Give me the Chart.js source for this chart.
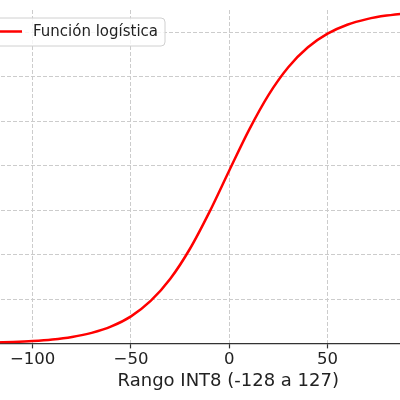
<!DOCTYPE html>
<html>
<head>
<meta charset="utf-8">
<script src="https://cdn.jsdelivr.net/npm/chart.js@4.4.0/dist/chart.umd.min.js"></script>
<style>
  html, body { margin: 0; padding: 0; background: #fff; overflow: hidden; }
  #frame { position: relative; width: 400px; height: 400px; overflow: hidden; }
  #wrap { position: absolute; left: -60px; top: 0; }
</style>
</head>
<body>
<div id="frame"><div id="wrap"><canvas id="logisticChart" width="620" height="400"></canvas></div></div>
<script>
// values
const xValues = [-128, -120, -110, -100, -90, -80, -70, -60, -50, -40, -30, -20, -10, 0,
                 10, 20, 30, 40, 50, 60, 70, 80, 90, 100, 110, 120, 127];
const yValues = [0.0018, 0.0027, 0.0044, 0.0072, 0.0118, 0.0194, 0.0315, 0.0509, 0.0812, 0.1273,
                 0.1939, 0.2839, 0.3953, 0.5187, 0.6399, 0.7456, 0.8285, 0.8884, 0.9292, 0.9559,
                 0.9727, 0.9833, 0.9898, 0.9938, 0.9962, 0.9977, 0.9985];
const xTicks = [-100, -50, 0, 50, 100];
const xTickLabels = ['\u2212100', '\u221250', '0', '50', '100'];
const yGrid = [0.133, 0.267, 0.4, 0.534, 0.667, 0.801, 0.934];
const seriesLabel = 'Función logística';
const xTitle = 'Rango INT8 (-128 a 127)';

Chart.defaults.font.family = "'DejaVu Sans', sans-serif";
Chart.defaults.color = '#222';

// matplotlib-style legend box inside the plot area
const legendBox = {
    id: 'legendBox',
    afterDatasetsDraw(chart) {
        const {ctx, chartArea} = chart;
        const left = chartArea.left + 7.4;
        const top = chartArea.top + 8;
        const h = 28;
        ctx.save();
        ctx.font = "15px 'DejaVu Sans', sans-serif";
        const textX = chartArea.left + 80.4;
        const w = textX + ctx.measureText(seriesLabel).width + 7 - left;
        ctx.beginPath();
        ctx.roundRect(left, top, w, h, 4);
        ctx.fillStyle = 'rgba(255,255,255,0.8)';
        ctx.fill();
        ctx.strokeStyle = '#d0d0d0';
        ctx.lineWidth = 1;
        ctx.stroke();
        ctx.strokeStyle = '#ff0000';
        ctx.lineWidth = 2.5;
        ctx.beginPath();
        ctx.moveTo(chartArea.left + 39.4, top + 13.5);
        ctx.lineTo(chartArea.left + 69.4, top + 13.5);
        ctx.stroke();
        ctx.fillStyle = '#222';
        ctx.textBaseline = 'middle';
        ctx.fillText(seriesLabel, textX, top + 14);
        ctx.restore();
    }
};

const ctx = document.getElementById('logisticChart').getContext('2d');
new Chart(ctx, {
    type: 'line',
    data: {
        datasets: [{
            label: seriesLabel,
            data: xValues.map((x, i) => ({x: x, y: yValues[i]})),
            borderColor: '#ff0000',
            borderWidth: 2.5,
            pointRadius: 0,
            fill: false,
            cubicInterpolationMode: 'monotone'
        }]
    },
    options: {
        responsive: false,
        animation: false,
        layout: { padding: { left: 12.6, right: 56, top: 10, bottom: 3.2 } },
        plugins: { legend: { display: false }, tooltip: { enabled: false } },
        scales: {
            x: {
                type: 'linear',
                min: -140.75,
                max: 139.75,
                afterBuildTicks: axis => { axis.ticks = xTicks.map(v => ({value: v})); },
                ticks: {
                    callback: v => xTickLabels[xTicks.indexOf(v)],
                    font: { size: 16.5 },
                    color: '#222',
                    padding: 1,
                    maxRotation: 0,
                    autoSkip: false
                },
                grid: {
                    color: '#cccccc',
                    lineWidth: 1,
                    tickLength: 5,
                    tickColor: '#333',
                    tickWidth: 1.2
                },
                border: { display: true, color: '#333', width: 1.2, dash: [4, 2] },
                title: {
                    display: true,
                    text: xTitle,
                    font: { size: 18 },
                    color: '#222',
                    padding: { top: 0.3, bottom: 4.7 }
                }
            },
            y: {
                type: 'linear',
                min: 0,
                max: 1,
                afterBuildTicks: axis => { axis.ticks = yGrid.map(v => ({value: v})); },
                ticks: { display: false },
                grid: { color: '#cccccc', lineWidth: 1, drawTicks: false },
                border: { display: false, dash: [4, 2] }
            }
        }
    },
    plugins: [legendBox]
});
</script>
</body>
</html>
